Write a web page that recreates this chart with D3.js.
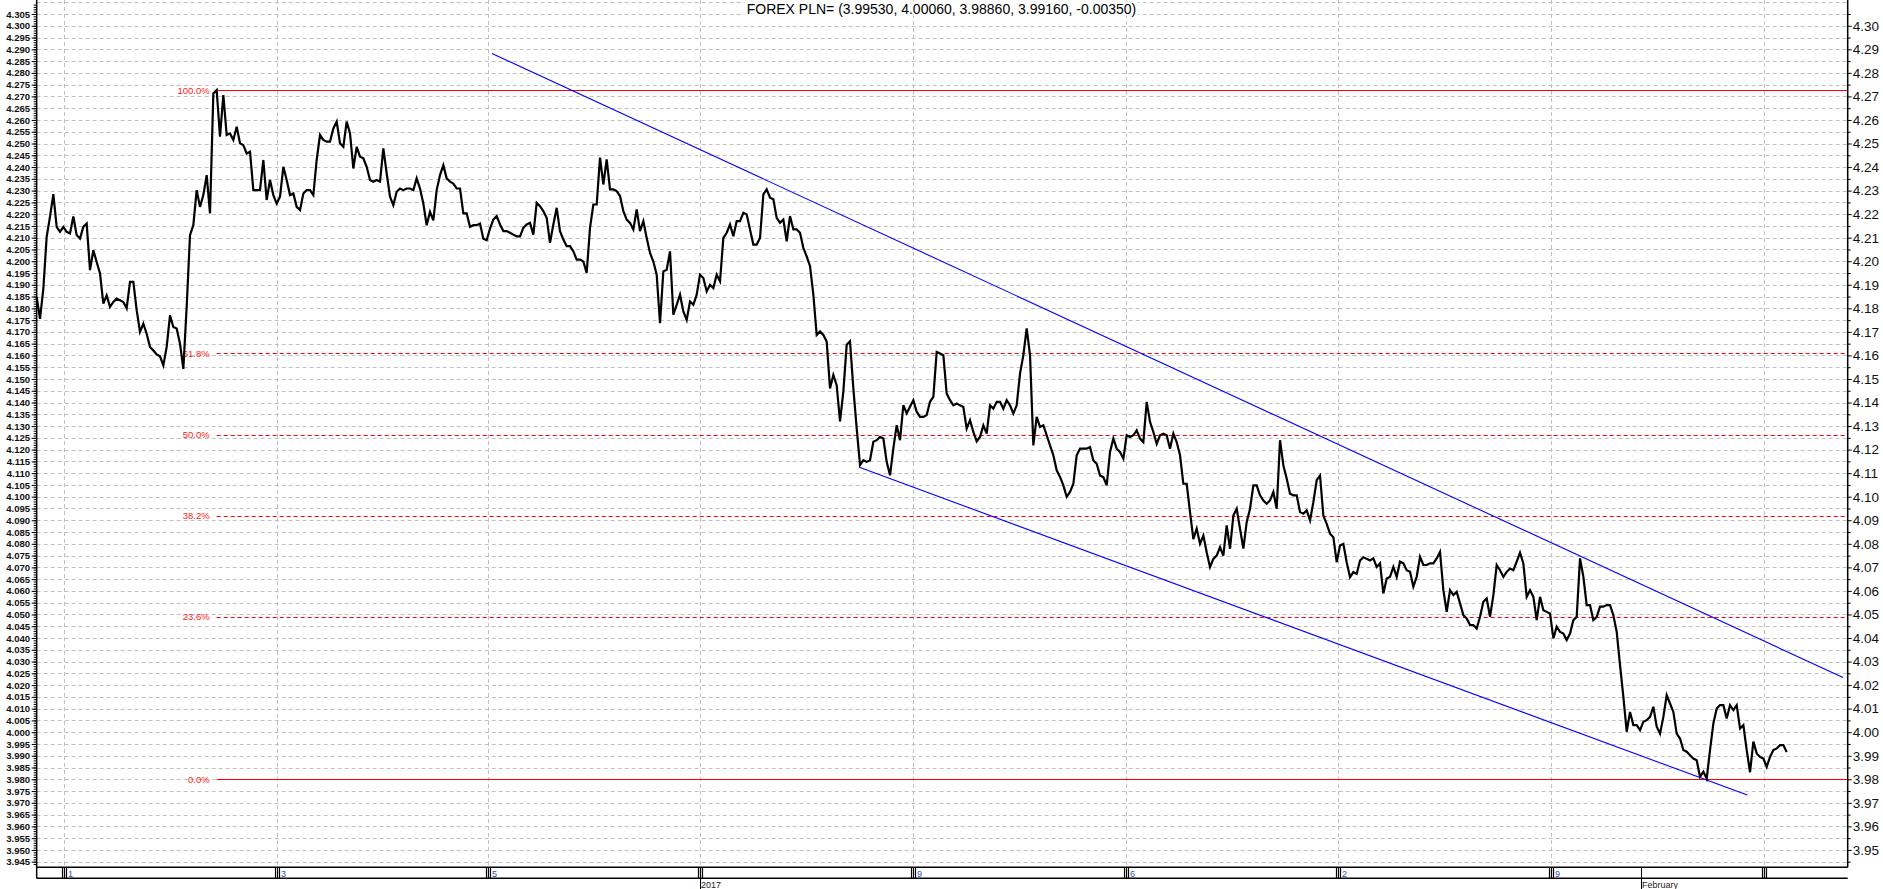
<!DOCTYPE html>
<html><head><meta charset="utf-8">
<script src="https://cdn.jsdelivr.net/npm/d3@7"></script>
<style>html,body{margin:0;padding:0;background:#fff;overflow:hidden}</style>
</head><body>
<svg id="chart" width="1883" height="889"></svg>
<script>
const title = "FOREX PLN= (3.99530, 4.00060, 3.98860, 3.99160, -0.00350)";
const prices = [
4.1848,4.1755,4.1884,4.2104,4.2189,4.2285,4.2146,4.2125,4.2146,4.2125,
4.2118,4.2190,4.2111,4.2096,4.2146,4.2160,4.1962,4.2047,4.1997,4.1948,
4.1820,4.1855,4.1806,4.1827,4.1841,4.1834,4.1827,4.1800,4.1912,4.1912,
4.1792,4.1700,4.1735,4.1692,4.1636,4.1621,4.1604,4.1596,4.1558,4.1636,
4.1770,4.1721,4.1714,4.1650,4.1543,4.1806,4.2111,4.2153,4.2302,4.2231,
4.2281,4.2366,4.2203,4.2713,4.2727,4.2529,4.2706,4.2536,4.2543,4.2515,
4.2571,4.2501,4.2493,4.2458,4.2465,4.2302,4.2302,4.2302,4.2430,4.2260,
4.2345,4.2281,4.2245,4.2274,4.2401,4.2345,4.2281,4.2288,4.2231,4.2217,
4.2288,4.2302,4.2302,4.2281,4.2430,4.2536,4.2515,4.2508,4.2508,4.2564,
4.2593,4.2501,4.2486,4.2593,4.2543,4.2394,4.2486,4.2444,4.2437,4.2401,
4.2345,4.2338,4.2345,4.2338,4.2479,4.2373,4.2274,4.2238,4.2295,4.2309,
4.2302,4.2309,4.2309,4.2302,4.2352,4.2309,4.2245,4.2153,4.2210,4.2174,
4.2302,4.2366,4.2408,4.2352,4.2338,4.2330,4.2309,4.2309,4.2203,4.2203,
4.2146,4.2153,4.2153,4.2160,4.2096,4.2089,4.2139,4.2177,4.2192,4.2156,
4.2128,4.2128,4.2121,4.2113,4.2106,4.2106,4.2142,4.2156,4.2163,4.2113,
4.2248,4.2234,4.2213,4.2184,4.2078,4.2156,4.2227,4.2128,4.2092,4.2064,
4.2064,4.2042,4.2007,4.2007,4.1999,4.1950,4.2142,4.2241,4.2241,4.2440,
4.2326,4.2433,4.2305,4.2305,4.2298,4.2277,4.2213,4.2177,4.2163,4.2135,
4.2220,4.2128,4.2170,4.2099,4.2035,4.1999,4.1943,4.1737,4.1957,4.1964,
4.2042,4.1773,4.1815,4.1858,4.1787,4.1751,4.1829,4.1815,4.1858,4.1943,
4.1929,4.1872,4.1900,4.1886,4.1943,4.1915,4.2099,4.2121,4.2156,4.2106,
4.2170,4.2170,4.2206,4.2199,4.2135,4.2071,4.2071,4.2099,4.2284,4.2305,
4.2270,4.2263,4.2184,4.2163,4.2177,4.2085,4.2192,4.2135,4.2135,4.2121,
4.2057,4.2021,4.1979,4.1858,4.1687,4.1702,4.1687,4.1659,4.1460,4.1517,
4.1474,4.1320,4.1446,4.1645,4.1660,4.1460,4.1290,4.1134,4.1155,4.1148,
4.1155,4.1233,4.1240,4.1254,4.1247,4.1148,4.1091,4.1205,4.1304,4.1240,
4.1389,4.1354,4.1382,4.1410,4.1361,4.1339,4.1339,4.1347,4.1403,4.1424,
4.1615,4.1608,4.1601,4.1438,4.1410,4.1388,4.1396,4.1388,4.1381,4.1289,
4.1325,4.1275,4.1235,4.1254,4.1303,4.1268,4.1388,4.1374,4.1403,4.1403,
4.1374,4.1410,4.1388,4.1353,4.1388,4.1523,4.1601,4.1715,4.1601,4.1218,
4.1339,4.1296,4.1303,4.1261,4.1218,4.1176,4.1112,4.1084,4.1048,4.1000,
4.1020,4.1055,4.1176,4.1204,4.1204,4.1204,4.1211,4.1154,4.1140,4.1090,
4.1083,4.1048,4.1190,4.1247,4.1204,4.1190,4.1162,4.1261,4.1254,4.1261,
4.1282,4.1247,4.1232,4.1403,4.1318,4.1275,4.1225,4.1261,4.1268,4.1261,
4.1204,4.1268,4.1232,4.1176,4.1055,4.1055,4.0935,4.0820,4.0864,4.0800,
4.0835,4.0764,4.0701,4.0736,4.0750,4.0786,4.0750,4.0878,4.0779,4.0920,
4.0949,4.0864,4.0780,4.0892,4.0949,4.1048,4.1048,4.1006,4.0984,4.0970,
4.0984,4.1020,4.0949,4.1240,4.1133,4.1077,4.1013,4.1006,4.1006,4.0935,
4.0928,4.0942,4.0900,4.0977,4.1070,4.1090,4.0920,4.0885,4.0843,4.0828,
4.0722,4.0793,4.0800,4.0722,4.0658,4.0680,4.0672,4.0729,4.0743,4.0736,
4.0729,4.0738,4.0702,4.0717,4.0589,4.0653,4.0660,4.0702,4.0660,4.0724,
4.0717,4.0688,4.0681,4.0618,4.0660,4.0745,4.0710,4.0710,4.0717,4.0717,
4.0738,4.0766,4.0603,4.0511,4.0603,4.0582,4.0596,4.0547,4.0497,4.0483,
4.0455,4.0455,4.0440,4.0490,4.0554,4.0568,4.0490,4.0582,4.0710,4.0688,
4.0660,4.0681,4.0695,4.0688,4.0724,4.0762,4.0717,4.0575,4.0603,4.0575,
4.0476,4.0575,4.0518,4.0511,4.0504,4.0398,4.0448,4.0426,4.0419,4.0391,
4.0419,4.0476,4.0490,4.0738,4.0660,4.0540,4.0540,4.0476,4.0490,4.0533,
4.0533,4.0540,4.0540,4.0497,4.0426,4.0285,4.0150,4.0002,4.0086,4.0030,
4.0030,4.0009,4.0044,4.0051,4.0065,4.0108,4.0023,3.9994,4.0065,4.0157,
4.0122,4.0086,3.9994,3.9973,3.9924,3.9917,3.9902,3.9888,3.9881,3.9810,
3.9832,3.9803,3.9924,4.0037,4.0100,4.0115,4.0115,4.0058,4.0115,4.0094,
4.0115,4.0016,4.0030,3.9924,3.9830,3.9960,3.9910,3.9895,3.9888,3.9853,
3.9895,3.9924,3.9931,3.9945,3.9945,3.9916
];
const fibHigh = 4.2727;
const fibLow = 3.9800;
const fibPercents = [100.0, 61.8, 50.0, 38.2, 23.6, 0.0];
const fibStartIndex = 54;
const channelUpper = [[136.6, 4.2882], [541.9, 4.0232]];
const channelLower = [[246.8, 4.1125], [513.2, 3.9733]];
const weekTickIndex = [8.3, 72.0, 135.5, 199.0, 262.8, 326.7, 390.3, 454.2, 518.3];
const weekTickLabels = ["1", "3", "5", "", "9", "6", "2", "9", ""];
const monthIndex = [199.0, 481.2];
const monthLabels = ["2017", "February"];

const PL = 36.67, PR = 1847.7, PT = 0, PB = 867.3, BAND = 878.3;
const svg = d3.select("#chart");
const x = d3.scaleLinear().domain([0, 543.3]).range([PL, PR]);
const y = d3.scaleLinear().domain([3.945, 4.305]).range([861.7, 14]);
const font = "'Liberation Sans', Arial, sans-serif";

const r3 = v => Math.round(v * 1000) / 1000;
const gridVals = d3.range(0, 74).map(k => r3(3.945 + k * 0.005));
const g = svg.append("g");
g.selectAll("line").data(gridVals).join("line")
  .attr("x1", PL).attr("x2", PR)
  .attr("y1", d => Math.round(y(d)) + 0.5).attr("y2", d => Math.round(y(d)) + 0.5)
  .attr("stroke", "#c0c0c0").attr("stroke-dasharray", "4,3").attr("stroke-width", 1);
const gv = svg.append("g");
gv.selectAll("line").data(weekTickIndex).join("line")
  .attr("x1", d => Math.round(x(d)) + 0.5).attr("x2", d => Math.round(x(d)) + 0.5)
  .attr("y1", PT).attr("y2", PB)
  .attr("stroke", "#c0c0c0").attr("stroke-dasharray", "4,3").attr("stroke-width", 1);

// fib lines
const fib = fibPercents.map(p => ({p, v: fibLow + (fibHigh - fibLow) * p / 100}));
const fg = svg.append("g");
fg.selectAll("line").data(fib).join("line")
  .attr("x1", x(fibStartIndex)).attr("x2", PR)
  .attr("y1", d => Math.round(y(d.v)) + 0.5).attr("y2", d => Math.round(y(d.v)) + 0.5)
  .attr("stroke", "#ff0000").attr("stroke-width", 1.2)
  .attr("stroke-dasharray", d => (d.p === 100 || d.p === 0) ? null : "4,3");
fg.selectAll("text").data(fib).join("text")
  .attr("x", x(fibStartIndex) - 7).attr("y", d => y(d.v) + 3.5)
  .attr("text-anchor", "end").attr("font-family", font).attr("font-size", 9.5)
  .attr("fill", "#ff2020").text(d => d.p.toFixed(1) + "%");

// channel lines
const chLine = d3.line().x(d => x(d[0])).y(d => y(d[1]));
[channelUpper, channelLower].forEach(c => {
  svg.append("path").attr("d", chLine(c)).attr("fill", "none")
    .attr("stroke", "#0000ff").attr("stroke-width", 1.1);
});

// price
const line = d3.line().x((d, i) => x(i)).y(d => y(d));
svg.append("path").datum(prices).attr("d", line).attr("fill", "none")
  .attr("stroke", "#000").attr("stroke-width", 2.2).attr("stroke-linejoin", "miter");

// left axis
const leftMajor = d3.range(0, 73).map(k => r3(3.945 + k * 0.005));
const leftMinor = d3.range(0, 366).map(k => r3(3.944 + k * 0.001));
const la = svg.append("g").attr("transform", `translate(${PL},0)`)
  .call(d3.axisLeft(y).tickValues(leftMinor).tickSize(3).tickFormat(""));
la.select(".domain").remove();
const la2 = svg.append("g").attr("transform", `translate(${PL},0)`)
  .call(d3.axisLeft(y).tickValues(leftMajor).tickSize(5).tickPadding(1.5).tickFormat(d3.format(".3f")));
la2.select(".domain").remove();
la2.selectAll("text").attr("font-family", font).attr("font-size", 9.6).attr("font-weight", "bold").attr("fill", "#111");

// right axis
const rightMajor = d3.range(0, 36).map(k => Math.round((3.95 + k * 0.01) * 100) / 100);
const rightMinor = d3.range(0, 37).map(k => r3(3.945 + k * 0.01));
const ra = svg.append("g").attr("transform", `translate(${PR},0)`)
  .call(d3.axisRight(y).tickValues(rightMinor).tickSize(3).tickFormat(""));
ra.select(".domain").remove();
const ra2 = svg.append("g").attr("transform", `translate(${PR},0)`)
  .call(d3.axisRight(y).tickValues(rightMajor).tickSize(4).tickPadding(1).tickFormat(d3.format(".2f")));
ra2.select(".domain").remove();
ra2.selectAll("text").attr("font-family", font).attr("font-size", 13.5).attr("fill", "#111");
svg.selectAll(".tick line").attr("stroke", "#000");

svg.append("line").attr("x1", PL).attr("x2", PL).attr("y1", 0).attr("y2", BAND).attr("stroke", "#000").attr("stroke-width", 1.5);
svg.append("line").attr("x1", PR).attr("x2", PR).attr("y1", 0).attr("y2", PB).attr("stroke", "#000").attr("stroke-width", 1.5);

// bottom band
svg.append("line").attr("x1", PL).attr("x2", PR).attr("y1", PB).attr("y2", PB).attr("stroke", "#000").attr("stroke-width", 1.5);
svg.append("line").attr("x1", PL).attr("x2", PR).attr("y1", BAND).attr("y2", BAND).attr("stroke", "#000").attr("stroke-width", 1.5);
const bt = svg.append("g");
weekTickIndex.forEach((t, k) => {
  const xx = Math.round(x(t));
  [-2, 0, 2].forEach(o => bt.append("line").attr("x1", xx + o + 0.5).attr("x2", xx + o + 0.5)
    .attr("y1", PB).attr("y2", BAND).attr("stroke", "#000").attr("stroke-width", 1.2));
  bt.append("text").attr("x", xx + 4).attr("y", 876.5).attr("font-family", font).attr("font-size", 9)
    .attr("fill", "#3050c0").text(weekTickLabels[k]);
});
monthIndex.forEach((t, k) => {
  const xx = Math.round(x(t));
  bt.append("line").attr("x1", xx + 0.5).attr("x2", xx + 0.5).attr("y1", PB).attr("y2", 889)
    .attr("stroke", "#000").attr("stroke-width", 1);
  bt.append("text").attr("x", xx + 1).attr("y", 888).attr("font-family", font).attr("font-size", 9)
    .attr("fill", "#222").text(monthLabels[k]);
});

// title
const tg = svg.append("g");
const bgRect = tg.append("rect").attr("fill", "#fff");
const tt = tg.append("text").attr("x", 941.5).attr("y", 13.5).attr("text-anchor", "middle")
  .attr("font-family", font).attr("font-size", 14).attr("fill", "#000").text(title);
const bb = tt.node().getBBox();
bgRect.attr("x", bb.x - 2).attr("y", bb.y + 1).attr("width", bb.width + 4).attr("height", bb.height - 2);
</script>
</body></html>
